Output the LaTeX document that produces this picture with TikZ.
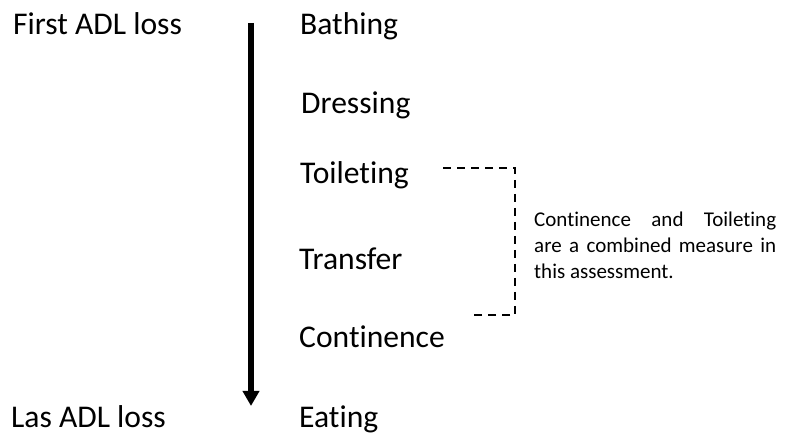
\documentclass[tikz,border=0pt]{standalone}
\usepackage{fontspec}
\setmainfont{Carlito}[Ligatures=NoCommon]
\usetikzlibrary{arrows.meta}

\begin{document}
\begin{tikzpicture}[x=1pt,y=-1pt,
 act/.style={anchor=base west,inner sep=0pt,font=\fontsize{31.6}{37}\selectfont},
 note/.style={anchor=base west,inner sep=0pt,text width=242pt,align=justify,font=\fontsize{21}{25.7}\selectfont}]
\useasboundingbox (0,0) rectangle (785,435);

\node[act] (first) at (13,35) {First ADL loss};
\node[act] (last) at (11,428) {Las ADL loss};

\foreach \i/\lbl/\x/\y in {1/Bathing/300/35,2/Dressing/301/114,3/Toileting/300/184,4/Transfer/299/270,5/Continence/299/348,6/Eating/299/428}
{
\node[act] (a\i) at (\x,\y) {\lbl};
}

\coordinate (t0) at (251,23);
\coordinate (t1) at (251,406);
\draw[line width=5.5pt,-{Triangle[length=15pt,width=16pt]}] (t0)--(t1);

\coordinate (b0) at (443,168);
\coordinate (b1) at (515,168);
\coordinate (b2) at (515,315);
\coordinate (b3) at (469,315);
\draw[line width=2pt,dash pattern=on 8pt off 6pt] (b0)--(b1)--(b2)--(b3);

\node[note] (n) at (534,227) {Continence and Toileting\linebreak are a combined measure in\linebreak this assessment.};
\end{tikzpicture}
\end{document}
